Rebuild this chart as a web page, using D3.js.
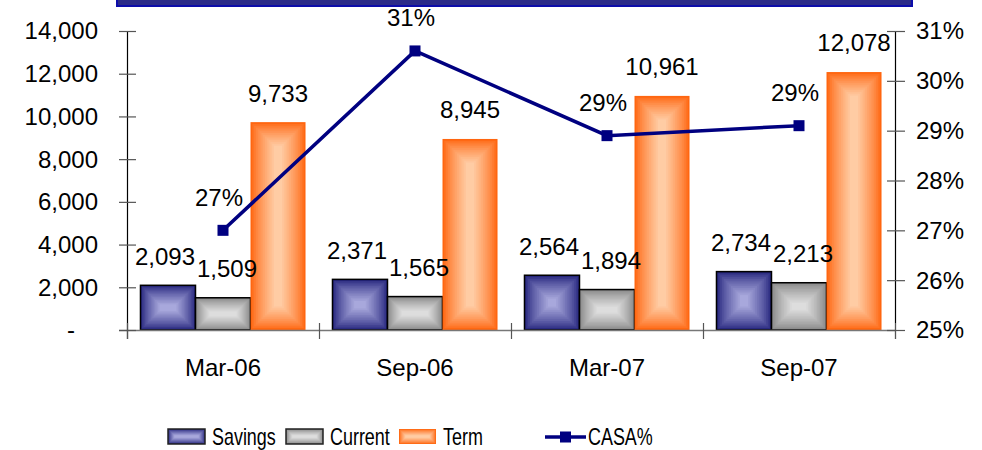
<!DOCTYPE html>
<html>
<head>
<meta charset="utf-8">
<script src="https://cdn.jsdelivr.net/npm/d3@7"></script>
<style>
  body { margin: 0; background: #fff; }
  text { font-family: "Liberation Sans", Arial, sans-serif; fill: #000; }
</style>
</head>
<body>
<svg id="chart" width="982" height="450"></svg>
<script>
// data
const categories = ["Mar-06", "Sep-06", "Mar-07", "Sep-07"]
const savings = [2093, 2371, 2564, 2734]
const current = [1509, 1565, 1894, 2213]
const term = [9733, 8945, 10961, 12078]
const casa = [27.0, 30.6, 28.9, 29.1]
const leftTicks = [0, 2000, 4000, 6000, 8000, 10000, 12000, 14000]
const rightTicks = [25, 26, 27, 28, 29, 30, 31]
const seriesNames = ["Savings", "Current", "Term"]

const series = [
    { name: "Savings", values: savings, edge: "#26267e", center: "#b0b0e2", stroke: "#000" },
    { name: "Current", values: current, edge: "#888888", center: "#e2e2e2", stroke: "#000" },
    { name: "Term", values: term, edge: "#ff6610", center: "#ffd2ad", stroke: null }
]

const svg = d3.select("#chart")

const x0 = d3.scaleBand().domain(categories).range([127, 895])
const x1 = d3.scaleBand().domain(seriesNames).range([0, x0.bandwidth()]).paddingOuter(0.245)
const y = d3.scaleLinear().domain([0, 14000]).range([330, 31])
const y2 = d3.scaleLinear().domain([25, 31]).range([330, 31])

// top banner strip
svg.append("rect").attr("x", 117).attr("y", -4).attr("width", 795).attr("height", 10)
    .attr("fill", "#2b2b88").attr("stroke", "#0c0caa").attr("stroke-width", 2)

// bevelled box: nested rects from edge colour to centre colour
function bevel(g, x, yTop, w, h, edge, center, stroke) {
    const steps = 14
    const m = Math.min(w, h) / 2
    const col = d3.interpolateRgb(edge, center)
    for (let i = 0; i < steps; i++) {
        const t = i / steps
        const inset = t * m * 0.92
        g.append("rect")
            .attr("x", x + inset).attr("y", yTop + inset)
            .attr("width", Math.max(0, w - 2 * inset)).attr("height", Math.max(0, h - 2 * inset))
            .attr("fill", col(Math.pow(t, 0.8)))
    }
    if (stroke) {
        g.append("rect").attr("x", x).attr("y", yTop).attr("width", w).attr("height", h)
            .attr("fill", "none").attr("stroke", stroke).attr("stroke-width", 1.5)
    }
}

// bars
const bars = svg.append("g")
series.forEach(function (s) {
    s.values.forEach(function (v, i) {
        const bx = x0(categories[i]) + x1(s.name)
        bevel(bars, bx, y(v), x1.bandwidth(), y(0) - y(v), s.edge, s.center, s.stroke)
    })
})

// axes
const axisG = svg.append("g")
axisG.append("line").attr("x1", 119).attr("x2", 895).attr("y1", 330.5).attr("y2", 330.5)
    .attr("stroke", "#777").attr("stroke-width", 1.5)
axisG.append("line").attr("x1", 127.5).attr("x2", 127.5).attr("y1", 31).attr("y2", 339)
    .attr("stroke", "#000").attr("stroke-width", 1.2)
axisG.append("line").attr("x1", 895.5).attr("x2", 895.5).attr("y1", 31).attr("y2", 339)
    .attr("stroke", "#000").attr("stroke-width", 1.2)

const fmt = d3.format(",")
leftTicks.forEach(function (t) {
    axisG.append("line").attr("x1", 119).attr("x2", 136).attr("y1", y(t) + 0.5).attr("y2", y(t) + 0.5)
        .attr("stroke", "#555").attr("stroke-width", 1.2)
    axisG.append("text")
        .attr("x", t === 0 ? 75 : 98).attr("y", y(t)).attr("dy", "0.35em")
        .attr("text-anchor", "end").attr("font-size", 24)
        .text(t === 0 ? "-" : fmt(t))
})
rightTicks.forEach(function (t) {
    axisG.append("line").attr("x1", 887).attr("x2", 905).attr("y1", y2(t) + 0.5).attr("y2", y2(t) + 0.5)
        .attr("stroke", "#555").attr("stroke-width", 1.2)
    axisG.append("text")
        .attr("x", 916).attr("y", y2(t)).attr("dy", "0.35em")
        .attr("font-size", 24)
        .text(t + "%")
})
x0.domain().forEach(function (c, i) {
    const xx = x0(c)
    axisG.append("line").attr("x1", xx + 0.5).attr("x2", xx + 0.5).attr("y1", 323).attr("y2", 339)
        .attr("stroke", "#555").attr("stroke-width", 1.2)
    axisG.append("text")
        .attr("x", xx + x0.bandwidth() / 2).attr("y", 368).attr("dy", "0.35em")
        .attr("text-anchor", "middle").attr("font-size", 24)
        .text(c)
})
axisG.append("line").attr("x1", 895.5).attr("x2", 895.5).attr("y1", 323).attr("y2", 339)
    .attr("stroke", "#555")

// bar value labels
const labelG = svg.append("g")
series.forEach(function (s, si) {
    s.values.forEach(function (v, i) {
        const cx = x0(categories[i]) + x1(s.name) + x1.bandwidth() / 2
        labelG.append("text")
            .attr("x", cx + [-3, 4, 0][si]).attr("y", y(v) - 29).attr("dy", "0.35em")
            .attr("text-anchor", "middle").attr("font-size", 24)
            .text(fmt(v))
    })
})

// CASA% line
const line = d3.line()
    .x(function (d, i) { return x0(categories[i]) + x0.bandwidth() / 2 })
    .y(function (d) { return y2(d) })
svg.append("path").datum(casa).attr("d", line)
    .attr("fill", "none").attr("stroke", "#000080").attr("stroke-width", 3.5)
svg.selectAll(".casaMark").data(casa).enter().append("rect")
    .attr("class", "casaMark")
    .attr("x", function (d, i) { return x0(categories[i]) + x0.bandwidth() / 2 - 5.5 })
    .attr("y", function (d) { return y2(d) - 5.5 })
    .attr("width", 11).attr("height", 11).attr("fill", "#000080")
svg.selectAll(".casaLabel").data(casa).enter().append("text")
    .attr("class", "casaLabel")
    .attr("x", function (d, i) { return x0(categories[i]) + x0.bandwidth() / 2 - 4 })
    .attr("y", function (d) { return y2(d) - 33 }).attr("dy", "0.35em")
    .attr("text-anchor", "middle").attr("font-size", 24)
    .text(function (d) { return d3.format(".0f")(d) + "%" })

// legend
const legend = svg.append("g")
const legendX = [168, 286, 399]
series.forEach(function (s, i) {
    bevel(legend, legendX[i], 429, 37, 15, s.edge, s.center, s.stroke ? "#222" : null)
    legend.append("text")
        .attr("transform", "translate(" + (legendX[i] + 44) + ",445) scale(0.78,1)")
        .attr("font-size", 23)
        .text(s.name)
})
legend.append("line").attr("x1", 545).attr("x2", 586).attr("y1", 437).attr("y2", 437)
    .attr("stroke", "#000080").attr("stroke-width", 3.5)
legend.append("rect").attr("x", 560).attr("y", 431.5).attr("width", 11).attr("height", 11).attr("fill", "#000080")
legend.append("text")
    .attr("transform", "translate(588,445) scale(0.78,1)")
    .attr("font-size", 23)
    .text("CASA%")
</script>
</body>
</html>
